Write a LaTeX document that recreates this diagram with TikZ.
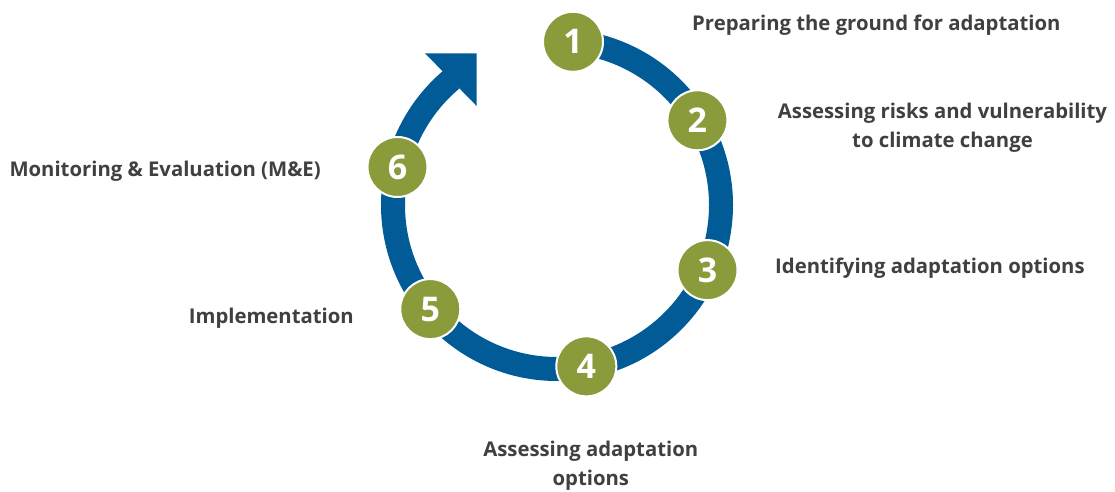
\documentclass[tikz,border=0pt]{standalone}
\usepackage{fontspec}
\setmainfont{Open Sans}
\usetikzlibrary{calc}
\definecolor{ringblue}{RGB}{0,91,150}
\definecolor{stepgreen}{RGB}{138,155,60}
\definecolor{labelgray}{RGB}{64,64,66}
\begin{document}
\begin{tikzpicture}[x=1pt,y=1pt,
  ring/.style={draw=ringblue,line width=24pt,line cap=butt},
  stepdot/.style={circle,fill=stepgreen,draw=white,line width=2pt,
    minimum size=60pt,inner sep=0pt,text=white,
    font=\bfseries\fontsize{34}{34}\selectfont},
  steplabel/.style={text=labelgray,inner sep=0pt,
    font=\bfseries\fontsize{20.3}{28.5}\selectfont}]
\useasboundingbox (0,0) rectangle (1115,491);
\coordinate (hub) at (557,286);
% circular path, ending in an arrow head
\draw[ring] ($(hub)+(90:164)$) arc[start angle=90,end angle=-230,radius=164];
\coordinate (headA) at (425,437.7);
\coordinate (headTip) at (476.7,437.7);
\coordinate (headB) at (476.7,385);
\fill[ringblue] (headA) -- (headTip) -- (headB) -- cycle;
% numbered steps
\node[stepdot] (s1) at ($(hub)+(84.4:164)$) {1};
\node[stepdot] (s2) at ($(hub)+(31.1:164)$) {2};
\node[stepdot] (s3) at ($(hub)+(-23.4:164)$) {3};
\node[stepdot] (s4) at ($(hub)+(-79.7:164)$) {4};
\node[stepdot] (s5) at ($(hub)+(219.4:164)$) {5};
\node[stepdot] (s6) at ($(hub)+(166.6:164)$) {6};
% step labels
\node[steplabel,anchor=west] (l1) at (692,466) {Preparing the ground for adaptation};
\node[steplabel,align=center] (l2) at (942.5,363.5) {Assessing risks and vulnerability\\to climate change};
\node[steplabel,anchor=west] (l3) at (775,222.7) {Identifying adaptation options};
\node[steplabel,align=center] (l4) at (590.8,25.1) {Assessing adaptation\\options};
\node[steplabel,anchor=east] (l5) at (354,172.7) {Implementation};
\node[steplabel,anchor=west] (l6) at (9.3,319.3) {Monitoring \& Evaluation (M\&E)};
\end{tikzpicture}
\end{document}
